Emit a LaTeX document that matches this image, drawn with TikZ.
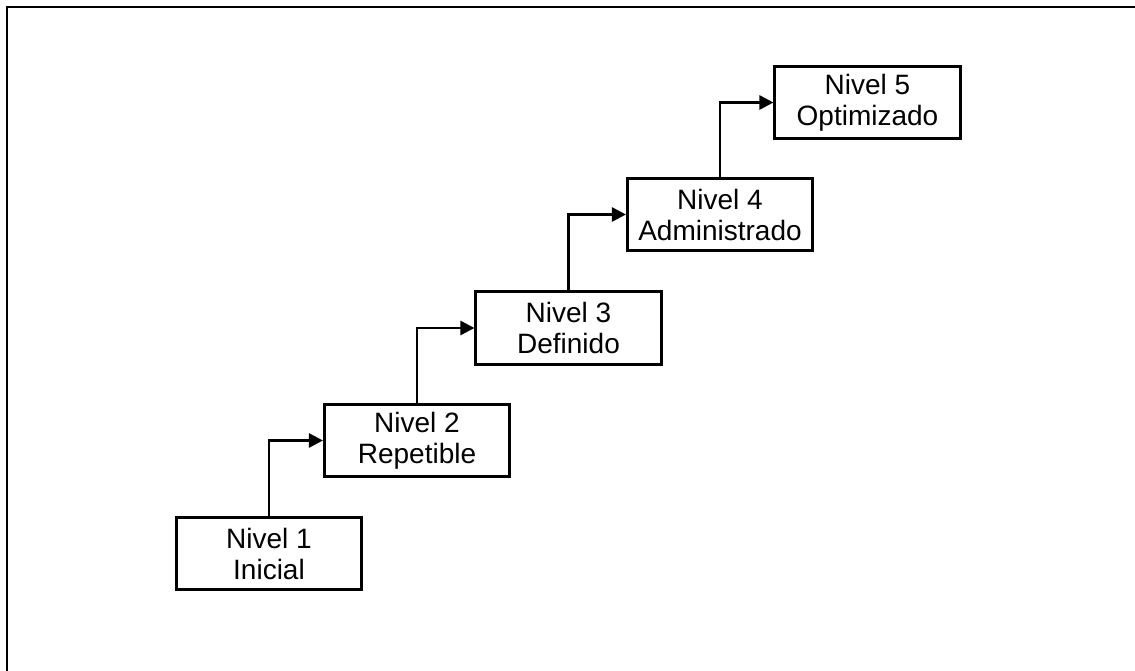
\documentclass[tikz,border=0pt]{standalone}
\usepackage{fontspec}
\setmainfont{Liberation Sans}
\usetikzlibrary{arrows.meta}
\begin{document}
\begin{tikzpicture}[x=1pt,y=-1pt,
  level/.style={draw, line width=2.6pt, minimum width=185.5pt, minimum height=72.5pt,
    inner sep=0pt, align=center, font=\fontsize{28}{31}\selectfont},
  link/.style={line width=2.6pt, -{Triangle[length=14pt,width=14pt]}},
  frame/.style={line width=2.6pt}]
\useasboundingbox (0,0) rectangle (1135,671);
% open frame: top and left edges only
\draw[frame] (7,671) -- (7,7) -- (1135,7);
% maturity levels as a staircase
\node[level] (n1) at (269,553.5) {Nivel 1\\Inicial};
\node[level] (n2) at (417,440.5) {Nivel 2\\Repetible};
\node[level] (n3) at (568.5,328) {Nivel 3\\Definido};
\node[level] (n4) at (720,214.5) {Nivel 4\\Administrado};
\node[level] (n5) at (867.5,102.5) {Nivel 5\\Optimizado};
% steps between levels
\draw[link] (n1.north) |- (n2.west);
\draw[link] (n2.north) |- (n3.west);
\draw[link] (n3.north) |- (n4.west);
\draw[link] (n4.north) |- (n5.west);
\end{tikzpicture}
\end{document}
